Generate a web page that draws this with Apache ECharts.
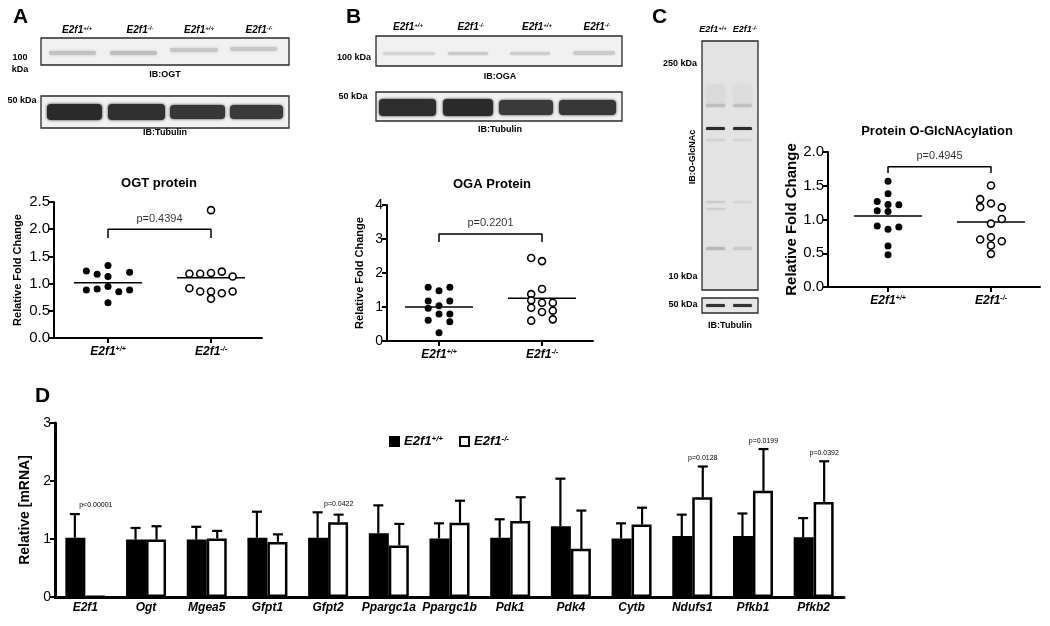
<!DOCTYPE html>
<html>
<head>
<meta charset="utf-8">
<script src="https://cdn.jsdelivr.net/npm/echarts@6/dist/echarts.min.js"></script>
<style>
  html, body { margin: 0; padding: 0; background: #fff; }
  #main { width: 1050px; height: 626px; }
</style>
</head>
<body>
<div id="main"></div>
<script>
// ---- data ----
var genoBase = 'E2f1';
var genoSup = ['+/+', '-/-'];

// A: OGT protein (relative fold change), slot = dot column in the swarm
var ogtWt = [1.23, 1.17, 1.335, 1.21, 1.13, 0.884, 0.90, 0.945, 0.85, 0.884, 0.646];
var ogtWtSlot = [-2, -1, 0, 2, 0, -2, -1, 0, 1, 2, 0];
var ogtKo = [1.18, 1.18, 1.195, 1.22, 1.13, 0.915, 0.854, 0.854, 0.823, 0.854, 0.72, 2.35];
var ogtKoSlot = [-2, -1, 0, 1, 2, -2, -1, 0, 1, 2, 0, 0];

// B: OGA protein
var ogaWt = [1.578, 1.48, 1.578, 1.176, 1.176, 1.04, 0.96, 0.794, 0.794, 0.608, 0.569, 0.245];
var ogaWtSlot = [-1, 0, 1, -1, 1, 0, -1, 0, 1, -1, 1, 0];
var ogaKo = [2.44, 2.35, 1.53, 1.38, 1.196, 1.127, 1.127, 0.98, 0.853, 0.892, 0.598, 0.637];
var ogaKoSlot = [-1, 0, 0, -1, -1, 0, 1, -1, 0, 1, -1, 1];

// C: protein O-GlcNAcylation
var glcWt = [1.568, 1.381, 1.268, 1.224, 1.219, 1.130, 1.120, 0.904, 0.855, 0.889, 0.609, 0.477];
var glcWtSlot = [0, 0, -1, 0, 1, -1, 0, -1, 0, 1, 0, 0];
var glcKo = [1.504, 1.302, 1.238, 1.184, 1.179, 1.007, 0.939, 0.703, 0.737, 0.678, 0.614, 0.491];
var glcKoSlot = [0, -1, 0, -1, 1, 1, 0, -1, 0, 1, 0, 0];

var pValues = ['p=0.4394', 'p=0.2201', 'p=0.4945'];

// D: relative mRNA
var genes = ['E2f1', 'Ogt', 'Mgea5', 'Gfpt1', 'Gfpt2', 'Ppargc1a', 'Ppargc1b', 'Pdk1', 'Pdk4', 'Cytb', 'Ndufs1', 'Pfkb1', 'Pfkb2'];
var wtMean = [1.02, 0.99, 0.99, 1.02, 1.02, 1.10, 1.01, 1.02, 1.22, 1.01, 1.05, 1.05, 1.03];
var wtSd   = [0.41, 0.20, 0.22, 0.45, 0.44, 0.48, 0.26, 0.32, 0.82, 0.26, 0.37, 0.39, 0.33];
var koMean = [0.01, 0.99, 1.01, 0.95, 1.29, 0.89, 1.28, 1.31, 0.83, 1.25, 1.72, 1.83, 1.64];
var koSd   = [0, 0.23, 0.13, 0.13, 0.13, 0.37, 0.38, 0.41, 0.66, 0.29, 0.53, 0.72, 0.70];
var geneP  = ['p<0.00001', '', '', '', 'p=0.0422', '', '', '', '', '', 'p=0.0128', 'p=0.0199', 'p=0.0392'];

// ---- helpers ----
var FF = '"Liberation Sans", Arial, sans-serif';
var SLOT = 0.105;

var supRich = function (size) {
  return {
    b: { fontFamily: FF, fontWeight: 'bold', fontStyle: 'italic', fontSize: size, color: '#000' },
    s: { fontFamily: FF, fontWeight: 'bold', fontStyle: 'italic', fontSize: Math.round(size * 0.62), color: '#000', verticalAlign: 'top' }
  };
};
var genoLabel = function (i) { return '{b|' + genoBase + '}{s|' + genoSup[i] + '}'; };

function xDot(gi, min, max) {
  return {
    type: 'value', gridIndex: gi, min: min, max: max,
    axisLine: { lineStyle: { color: '#000', width: 2 } },
    axisTick: { customValues: [1, 2], length: 5, lineStyle: { color: '#000', width: 2 } },
    axisLabel: { customValues: [1, 2], margin: 8, formatter: function (v) { return genoLabel(Math.round(v) - 1); }, rich: supRich(12) },
    splitLine: { show: false }
  };
}
function yDot(gi, max, interval, decimals, fs, name, nameFs, gap) {
  return {
    type: 'value', gridIndex: gi, min: 0, max: max, interval: interval,
    name: name, nameLocation: 'middle', nameRotate: 90, nameGap: gap,
    nameTextStyle: { fontFamily: FF, fontWeight: 'bold', fontSize: nameFs, color: '#000' },
    axisLine: { show: true, lineStyle: { color: '#000', width: 2 } },
    axisTick: { show: true, length: 5, lineStyle: { color: '#000', width: 2 } },
    axisLabel: { fontFamily: FF, fontSize: fs, color: '#000', margin: 4, formatter: function (v) { return v.toFixed(decimals); } },
    splitLine: { show: false }
  };
}
function dots(gi, vals, slots, group, filled) {
  return {
    type: 'scatter', xAxisIndex: gi, yAxisIndex: gi, symbolSize: 7, z: 4, silent: true,
    data: vals.map(function (v, i) { return [group + slots[i] * SLOT, v]; }),
    itemStyle: filled ? { color: '#000', opacity: 1 } : { color: '#fff', borderColor: '#000', borderWidth: 1.6, opacity: 1 }
  };
}
function meanLine(gi, vals, group) {
  var m = vals.reduce(function (a, b) { return a + b; }, 0) / vals.length;
  return {
    type: 'line', xAxisIndex: gi, yAxisIndex: gi, symbol: 'none', z: 3, silent: true,
    data: [[group - 0.33, m], [group + 0.33, m]],
    lineStyle: { color: '#000', width: 1.5 }
  };
}
function bracket(gi, lo, hi, p) {
  return [{
    type: 'line', xAxisIndex: gi, yAxisIndex: gi, symbol: 'none', silent: true,
    data: [[1, lo], [1, hi], [2, hi], [2, lo]],
    lineStyle: { color: '#000', width: 1.5 }
  }, {
    type: 'scatter', xAxisIndex: gi, yAxisIndex: gi, symbolSize: 0, silent: true,
    data: [[1.5, hi]],
    label: { show: true, position: 'top', distance: 5, formatter: p, fontFamily: FF, fontSize: 11, color: '#000' }
  }];
}
function errBars(means, sds, side) {
  return {
    type: 'custom', xAxisIndex: 3, yAxisIndex: 3, z: 5, silent: true,
    data: genes.map(function (g, i) { return [i, means[i], sds[i]]; }),
    renderItem: function (params, api) {
      var i = api.value(0), m = api.value(1), s = api.value(2);
      if (!(s > 0)) return { type: 'group', children: [] };
      var b = api.coord([i, m]), t = api.coord([i, m + s]);
      var x = b[0] + side * 10.5;
      return {
        type: 'group', children: [
          { type: 'line', shape: { x1: x, y1: b[1], x2: x, y2: t[1] }, style: { stroke: '#000', lineWidth: 2.2 } },
          { type: 'line', shape: { x1: x - 5, y1: t[1], x2: x + 5, y2: t[1] }, style: { stroke: '#000', lineWidth: 2.2 } }
        ]
      };
    }
  };
}
function pLabels() {
  return {
    type: 'custom', xAxisIndex: 3, yAxisIndex: 3, z: 6, silent: true,
    data: genes.map(function (g, i) { return [i, Math.max(wtMean[i] + wtSd[i], koMean[i] + koSd[i])]; }),
    renderItem: function (params, api) {
      var txt = geneP[params.dataIndex];
      var c = api.coord([api.value(0), api.value(1)]);
      return { type: 'text', x: c[0] + 10.5, y: c[1] - 5,
        style: { text: txt, font: '7px ' + FF, fill: '#000', align: 'center', verticalAlign: 'bottom' } };
    }
  };
}

// ---- blot drawing (decorative images) ----
function t(x, y, text, font, align, rot) {
  var el = { type: 'text', x: x, y: y, silent: true,
    style: { text: text, font: font, fill: '#000', align: align || 'center', verticalAlign: 'middle',
             textAlign: align || 'center', textVerticalAlign: 'middle' } };
  if (rot) el.rotation = rot;
  return el;
}
function rt(x, y, text, size) {
  return { type: 'text', x: x, y: y, silent: true,
    style: { text: text, rich: supRich(size), align: 'center', verticalAlign: 'middle', textAlign: 'center', textVerticalAlign: 'middle' } };
}
function box(x, y, w, h, fill) {
  return { type: 'rect', silent: true, shape: { x: x, y: y, width: w, height: h },
    style: { fill: fill, stroke: '#2a2a2a', lineWidth: 1.3 } };
}
function band(x, y, w, h, color, blur) {
  return { type: 'rect', silent: true, shape: { x: x, y: y, width: w, height: h, r: Math.min(h / 2, 4) },
    style: { fill: color, shadowBlur: blur, shadowColor: color } };
}
var B9 = 'bold 9px ' + FF;
var graphics = [
  t(13, 17, 'A', 'bold 21px ' + FF, 'left'),
  t(346, 17, 'B', 'bold 21px ' + FF, 'left'),
  t(652, 17, 'C', 'bold 21px ' + FF, 'left'),
  t(35, 396, 'D', 'bold 21px ' + FF, 'left'),
  // A blots
  rt(77, 30, genoLabel(0), 10), rt(140, 30, genoLabel(1), 10), rt(199, 30, genoLabel(0), 10), rt(259, 30, genoLabel(1), 10),
  box(41, 38, 248, 27, '#f1f1f1'),
  band(49, 51, 47, 4, '#c2c2c2', 3), band(110, 51, 47, 4, '#bdbdbd', 3), band(170, 48, 48, 4, '#c6c6c6', 3), band(230, 47, 47, 4, '#c8c8c8', 3),
  t(20, 58, '100', B9), t(20, 70, 'kDa', B9), t(165, 75, 'IB:OGT', B9),
  box(41, 96, 248, 32, '#f1f1f1'),
  band(47, 104, 55, 16, '#2a2a2a', 3), band(108, 104, 57, 16, '#303030', 3), band(170, 105, 55, 14, '#383838', 3), band(230, 105, 53, 14, '#3a3a3a', 3),
  t(22, 101, '50 kDa', B9), t(165, 133, 'IB:Tubulin', B9),
  // B blots
  rt(408, 27, genoLabel(0), 10), rt(471, 27, genoLabel(1), 10), rt(537, 27, genoLabel(0), 10), rt(597, 27, genoLabel(1), 10),
  box(376, 36, 246, 30, '#f1f1f1'),
  band(383, 52, 52, 3, '#d4d4d4', 2), band(448, 52, 40, 3, '#cacaca', 2), band(510, 52, 40, 3, '#cdcdcd', 2), band(573, 51, 42, 4, '#cbcbcb', 2),
  t(354, 58, '100 kDa', B9), t(500, 77, 'IB:OGA', B9),
  box(376, 92, 246, 29, '#f1f1f1'),
  band(379, 99, 57, 17, '#2e2e2e', 3), band(443, 99, 50, 17, '#2a2a2a', 3), band(499, 100, 54, 15, '#3a3a3a', 3), band(559, 100, 57, 15, '#363636', 3),
  t(353, 97, '50 kDa', B9), t(500, 130, 'IB:Tubulin', B9),
  // C blot
  rt(713, 30, genoLabel(0), 9), rt(745, 30, genoLabel(1), 9),
  box(702, 41, 56, 249, '#e3e3e3'),
  band(706, 84, 19, 22, '#dadada', 3), band(733, 84, 19, 22, '#dcdcdc', 3),
  band(706, 104, 19, 3, '#bdbdbd', 2), band(733, 104, 19, 3, '#c0c0c0', 2),
  band(706, 127, 19, 3, '#2c2c2c', 1), band(733, 127, 19, 3, '#2c2c2c', 1),
  band(706, 139, 19, 2, '#d2d2d2', 2), band(733, 139, 19, 2, '#d4d4d4', 2),
  band(706, 201, 19, 2, '#cbcbcb', 2), band(733, 201, 19, 2, '#d4d4d4', 2),
  band(706, 208, 19, 2, '#cfcfcf', 2),
  band(706, 247, 19, 3, '#b8b8b8', 2), band(733, 247, 19, 3, '#cbcbcb', 2),
  t(680, 64, '250 kDa', B9), t(683, 277, '10 kDa', B9),
  t(693, 157, 'IB:O-GlcNAc', B9, 'center', Math.PI / 2),
  box(702, 298, 56, 15, '#e6e6e6'),
  band(706, 304, 19, 3, '#333', 1), band(733, 304, 19, 3, '#333', 1),
  t(683, 305, '50 kDa', B9), t(730, 326, 'IB:Tubulin', B9),
  // scatter titles
  t(159, 183, 'OGT protein', 'bold 13px ' + FF),
  t(492, 184, 'OGA Protein', 'bold 13px ' + FF),
  t(937, 131, 'Protein O-GlcNAcylation', 'bold 13px ' + FF)
];

// ---- chart ----
var chart = echarts.init(document.getElementById('main'));
var series = [];
series.push(dots(0, ogtWt, ogtWtSlot, 1, true), dots(0, ogtKo, ogtKoSlot, 2, false), meanLine(0, ogtWt, 1), meanLine(0, ogtKo, 2));
series = series.concat(bracket(0, 1.84, 2.0, pValues[0]));
series.push(dots(1, ogaWt, ogaWtSlot, 1, true), dots(1, ogaKo, ogaKoSlot, 2, false), meanLine(1, ogaWt, 1), meanLine(1, ogaKo, 2));
series = series.concat(bracket(1, 2.91, 3.15, pValues[1]));
series.push(dots(2, glcWt, glcWtSlot, 1, true), dots(2, glcKo, glcKoSlot, 2, false), meanLine(2, glcWt, 1), meanLine(2, glcKo, 2));
series = series.concat(bracket(2, 1.69, 1.78, pValues[2]));
series.push({
  name: genoBase + genoSup[0], type: 'bar', xAxisIndex: 3, yAxisIndex: 3, data: wtMean,
  barWidth: 20, barGap: '0%', itemStyle: { color: '#000', borderColor: '#000', borderWidth: 2 }
}, {
  name: genoBase + genoSup[1], type: 'bar', xAxisIndex: 3, yAxisIndex: 3, data: koMean,
  barWidth: 20, barGap: '0%', itemStyle: { color: '#fff', borderColor: '#000', borderWidth: 2.5 }
});
series.push(errBars(wtMean, wtSd, -1), errBars(koMean, koSd, 1), pLabels());

chart.setOption({
  animation: false,
  backgroundColor: '#fff',
  grid: [
    { left: 54, top: 202, width: 208, height: 136 },
    { left: 387, top: 205, width: 206, height: 136 },
    { left: 828, top: 152, width: 212, height: 135 },
    { left: 55, top: 423, width: 789, height: 174 }
  ],
  xAxis: [
    xDot(0, 0.476, 2.495),
    xDot(1, 0.495, 2.495),
    xDot(2, 0.417, 2.476),
    {
      type: 'category', gridIndex: 3, data: genes,
      axisLine: { lineStyle: { color: '#000', width: 3 } },
      axisTick: { show: false },
      axisLabel: { interval: 0, margin: 5, fontFamily: FF, fontWeight: 'bold', fontStyle: 'italic', fontSize: 12, color: '#000' }
    }
  ],
  yAxis: [
    yDot(0, 2.5, 0.5, 1, 15, 'Relative Fold Change', 11, 31),
    yDot(1, 4, 1, 0, 14, 'Relative Fold Change', 11, 22),
    yDot(2, 2.0, 0.5, 1, 15, 'Relative Fold Change', 15, 27),
    {
      type: 'value', gridIndex: 3, min: 0, max: 3, interval: 1,
      name: 'Relative [mRNA]', nameLocation: 'middle', nameRotate: 90, nameGap: 23,
      nameTextStyle: { fontFamily: FF, fontWeight: 'bold', fontSize: 14, color: '#000' },
      axisLine: { show: true, lineStyle: { color: '#000', width: 3 } },
      axisTick: { show: true, length: 5, lineStyle: { color: '#000', width: 2 } },
      axisLabel: { fontFamily: FF, fontSize: 14, color: '#000', margin: 4 },
      splitLine: { show: false }
    }
  ],
  legend: {
    data: [genoBase + genoSup[0], genoBase + genoSup[1]],
    left: 384, top: 430, itemWidth: 9, itemHeight: 9, itemGap: 16,
    icon: 'rect',
    formatter: function (n) { return '{b|' + genoBase + '}{s|' + n.slice(genoBase.length) + '}'; },
    textStyle: { rich: supRich(13) }
  },
  graphic: graphics,
  series: series
});
</script>
</body>
</html>
